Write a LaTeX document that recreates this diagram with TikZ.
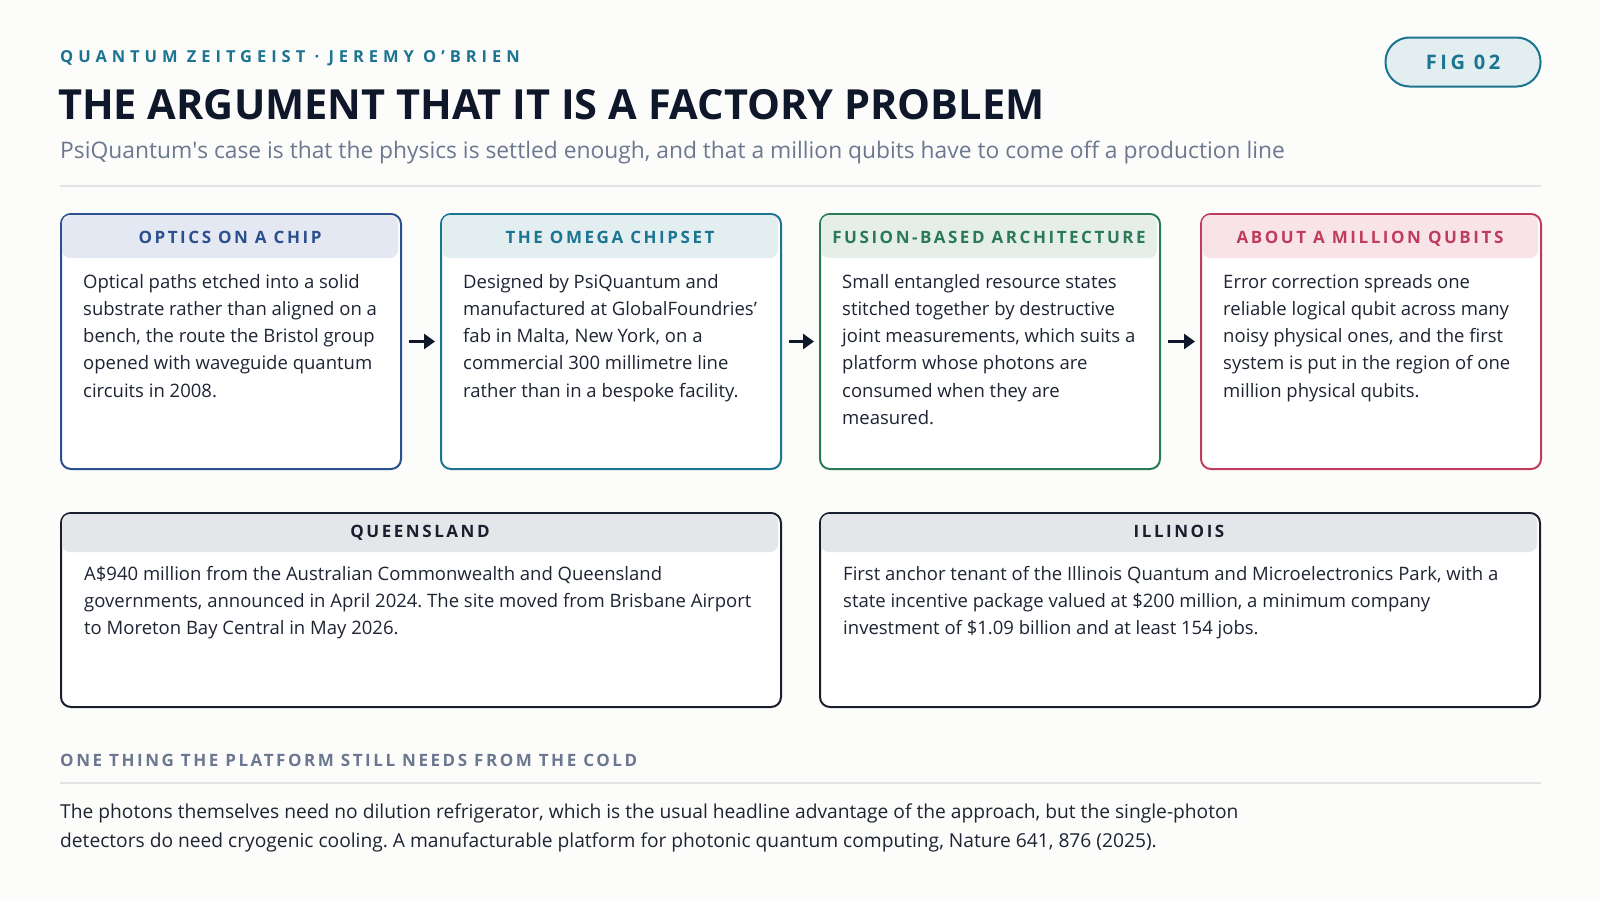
\documentclass[tikz,border=0pt]{standalone}
\usepackage{fontspec}
\setmainfont{Open Sans}
\usetikzlibrary{arrows.meta}
\frenchspacing

\definecolor{paper}{HTML}{FCFCFA}
\definecolor{ink}{HTML}{1E2433}
\definecolor{headink}{HTML}{0F172A}
\definecolor{slate}{HTML}{6B7890}
\definecolor{rule}{HTML}{E3E3E3}
\definecolor{tealC}{HTML}{1B7490}
\definecolor{tealH}{HTML}{E3EEF1}
\definecolor{blueC}{HTML}{2C4F8F}
\definecolor{blueH}{HTML}{E4E8F2}
\definecolor{greenC}{HTML}{2A7A56}
\definecolor{greenH}{HTML}{E5EEE8}
\definecolor{redC}{HTML}{C03C5D}
\definecolor{redH}{HTML}{F8E3E8}
\definecolor{darkC}{HTML}{1A1F2E}
\definecolor{darkH}{HTML}{E4E6EA}

\tikzset{
  card/.style={draw, line width=2pt, rounded corners=10pt, fill=white, anchor=north west, inner sep=0pt},
  stagecard/.style={card, minimum width=340pt, minimum height=255pt},
  sitecard/.style={card, minimum width=720pt, minimum height=194pt},
  band/.style={rounded corners=8pt},
  cardhead/.style={anchor=base, inner sep=0pt, font=\fontsize{17}{20}\selectfont\bfseries\addfontfeature{LetterSpace=15}},
  cardbody/.style={font=\fontsize{18.5}{27.2}\selectfont, text=ink, align=left, anchor=north west, inner sep=0pt},
  flow/.style={-{Triangle[length=11pt,width=15pt]}, line width=3pt, draw=headink, shorten <=7pt, shorten >=5pt},
}

\begin{document}
\begin{tikzpicture}[x=1pt,y=-1pt]
      \fill[paper] (0,0) rectangle (1600,900);
      \useasboundingbox (0,0) rectangle (1600,900);
      % header
      \node[anchor=base west,inner sep=0pt,text=tealC,font=\fontsize{16.5}{20}\selectfont\bfseries\addfontfeature{LetterSpace=30}] (kicker) at (60,62) {QUANTUM ZEITGEIST · JEREMY O’BRIEN};
      \node[anchor=base west,inner sep=0pt,text=headink,font=\fontsize{41.5}{48}\selectfont\bfseries] (title) at (58,119) {THE ARGUMENT THAT IT IS A FACTORY PROBLEM};
      \node[anchor=base west,inner sep=0pt,text=slate,font=\fontsize{22.8}{26}\selectfont] (subtitle) at (60,158) {PsiQuantum\textquotesingle s case is that the physics is settled enough, and that a million qubits have to come off a production line};
      \node[draw=tealC,fill=tealH,line width=2pt,rounded corners=24pt,minimum width=155pt,minimum height=49pt,text=tealC,font=\fontsize{20}{24}\selectfont\bfseries\addfontfeature{LetterSpace=18}] (fig) at (1463,62) {FIG 02};
      \draw[rule,line width=1.5pt] (60,186) -- (1541,186);
      % stage cards
      \node[stagecard,draw=blueC] (chip) at (60,213) {};
      \fill[blueH,band] (62,215) rectangle (398,258);
      \node[cardhead,text=blueC] (chiphead) at (230,243.5) {OPTICS ON A CHIP};
      \node[cardbody] (chiptext) at (83,274) {Optical paths etched into a solid\\substrate rather than aligned on a\\bench, the route the Bristol group\\opened with waveguide quantum\\circuits in 2008.};
      \node[stagecard,draw=tealC] (omega) at (440,213) {};
      \fill[tealH,band] (442,215) rectangle (778,258);
      \node[cardhead,text=tealC] (omegahead) at (610,243.5) {THE OMEGA CHIPSET};
      \node[cardbody] (omegatext) at (463,274) {Designed by PsiQuantum and\\manufactured at GlobalFoundries’\\fab in Malta, New York, on a\\commercial 300 millimetre line\\rather than in a bespoke facility.};
      \node[stagecard,draw=greenC] (fusion) at (819,213) {};
      \fill[greenH,band] (821,215) rectangle (1157,258);
      \node[cardhead,text=greenC] (fusionhead) at (989,243.5) {FUSION-BASED ARCHITECTURE};
      \node[cardbody] (fusiontext) at (842,274) {Small entangled resource states\\stitched together by destructive\\joint measurements, which suits a\\platform whose photons are\\consumed when they are\\measured.};
      \node[stagecard,draw=redC] (million) at (1200,213) {};
      \fill[redH,band] (1202,215) rectangle (1538,258);
      \node[cardhead,text=redC] (millionhead) at (1370,243.5) {ABOUT A MILLION QUBITS};
      \node[cardbody] (milliontext) at (1223,274) {Error correction spreads one\\reliable logical qubit across many\\noisy physical ones, and the first\\system is put in the region of one\\million physical qubits.};
      \draw[flow] (chip) -- (omega);
      \draw[flow] (omega) -- (fusion);
      \draw[flow] (fusion) -- (million);
      % site cards
      \node[sitecard,draw=darkC] (qld) at (60,512) {};
      \fill[darkH,band] (62,514) rectangle (778,552);
      \node[cardhead,text=darkC] (qldhead) at (420,537) {QUEENSLAND};
      \node[cardbody] (qldtext) at (84,566) {A\$940 million from the Australian Commonwealth and Queensland\\governments, announced in April 2024. The site moved from Brisbane Airport\\to Moreton Bay Central in May 2026.};
      \node[sitecard,draw=darkC] (ill) at (819,512) {};
      \fill[darkH,band] (821,514) rectangle (1537,552);
      \node[cardhead,text=darkC] (illhead) at (1179,537) {ILLINOIS};
      \node[cardbody] (illtext) at (843,566) {First anchor tenant of the Illinois Quantum and Microelectronics Park, with a\\state incentive package valued at \$200 million, a minimum company\\investment of \$1.09 billion and at least 154 jobs.};
      % footnote
      \node[anchor=base west,inner sep=0pt,text=slate,font=\fontsize{17}{20}\selectfont\bfseries\addfontfeature{LetterSpace=15}] (coldhead) at (60,766) {ONE THING THE PLATFORM STILL NEEDS FROM THE COLD};
      \draw[rule,line width=1.5pt] (60,783) -- (1541,783);
      \node[cardbody,font=\fontsize{19.2}{28.5}\selectfont] (coldtext) at (60,804) {The photons themselves need no dilution refrigerator, which is the usual headline advantage of the approach, but the single-photon\\detectors do need cryogenic cooling. A manufacturable platform for photonic quantum computing, Nature 641, 876 (2025).};
    \end{tikzpicture}
\end{document}
